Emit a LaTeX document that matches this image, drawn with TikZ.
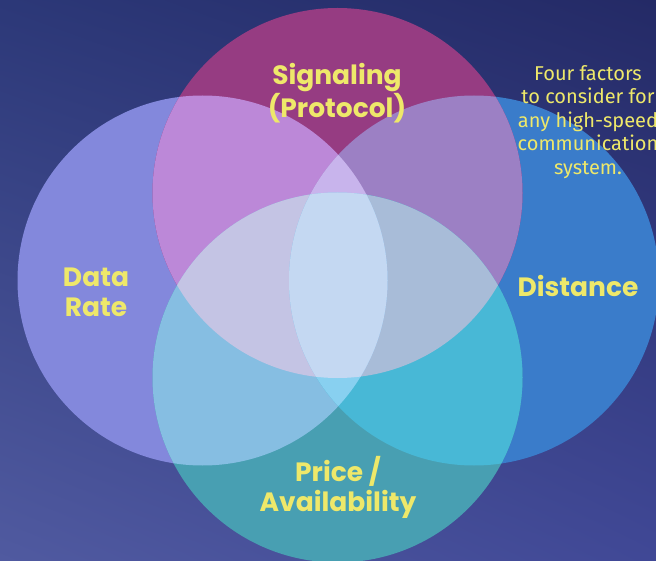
\documentclass[tikz,border=0pt]{standalone}
\usepackage{fontspec}
\setmainfont{Poppins}
\newfontfamily\notefont{Fira Sans}
\usetikzlibrary{positioning,shadings}

\definecolor{bgtl}{RGB}{44,56,120}
\definecolor{bgtr}{RGB}{36,42,102}
\definecolor{bgbl}{RGB}{80,90,160}
\definecolor{bgbr}{RGB}{64,72,150}
\definecolor{labelyellow}{RGB}{238,232,106}
\definecolor{topc}{RGB}{150,60,130}
\definecolor{leftc}{RGB}{131,136,220}
\definecolor{rightc}{RGB}{58,124,202}
\definecolor{botc}{RGB}{72,159,178}
\definecolor{tlc}{RGB}{188,136,216}
\definecolor{trc}{RGB}{156,128,196}
\definecolor{lbc}{RGB}{134,190,226}
\definecolor{rbc}{RGB}{72,184,214}
\definecolor{tlbc}{RGB}{196,196,228}
\definecolor{trbc}{RGB}{168,188,216}
\definecolor{tlrc}{RGB}{200,180,236}
\definecolor{lrbc}{RGB}{136,208,240}
\definecolor{allc}{RGB}{196,216,242}

\begin{document}
\begin{tikzpicture}
		[x=1pt,y=-1pt,
		set label/.style={text=labelyellow,font=\bfseries\fontsize{26.5}{30}\selectfont,align=center},
		note text/.style={text=labelyellow,font=\notefont\fontsize{20}{23.5}\selectfont,align=center}]
		\def \r {185pt}
		\useasboundingbox (0,0) rectangle (656,561);
		\shade[upper left=bgtl,upper right=bgtr,lower left=bgbl,lower right=bgbr] (0,0) rectangle (656,561);
		
		\coordinate (T) at (337.5,193);
		\coordinate (L) at (202.5,280.5);
		\coordinate (R) at (474,280.5);
		\coordinate (B) at (337.5,377.5);
		
		% one circle
		\fill[leftc] (L) circle (\r);
		\fill[rightc] (R) circle (\r);
		\fill[topc] (T) circle (\r);
		\fill[botc] (B) circle (\r);
		
		% two circles
		\begin{scope} \clip (T) circle (\r); \fill[tlc] (L) circle (\r); \end{scope}
		\begin{scope} \clip (T) circle (\r); \fill[trc] (R) circle (\r); \end{scope}
		\begin{scope} \clip (B) circle (\r); \fill[lbc] (L) circle (\r); \end{scope}
		\begin{scope} \clip (B) circle (\r); \fill[rbc] (R) circle (\r); \end{scope}
		
		% three circles
		\begin{scope} \clip (T) circle (\r); \clip (L) circle (\r); \fill[tlbc] (B) circle (\r); \end{scope}
		\begin{scope} \clip (T) circle (\r); \clip (R) circle (\r); \fill[trbc] (B) circle (\r); \end{scope}
		\begin{scope} \clip (T) circle (\r); \clip (L) circle (\r); \fill[tlrc] (R) circle (\r); \end{scope}
		\begin{scope} \clip (B) circle (\r); \clip (L) circle (\r); \fill[lrbc] (R) circle (\r); \end{scope}
		
		% all four
		\begin{scope} \clip (T) circle (\r); \clip (L) circle (\r); \clip (R) circle (\r); \fill[allc] (B) circle (\r); \end{scope}
		
		\node[set label] (signal) at (337,93) {Signaling\\(Protocol)};
		\node[set label] (rate) at (96,292) {Data\\Rate};
		\node[set label] (dist) at (578,286) {Distance};
		\node[set label] (price) at (338,487) {Price /\\Availability};
		\node[note text] (note) at (588,122) {Four factors\\to consider for\\any high-speed\\communication\\system.};
\end{tikzpicture}
\end{document}
